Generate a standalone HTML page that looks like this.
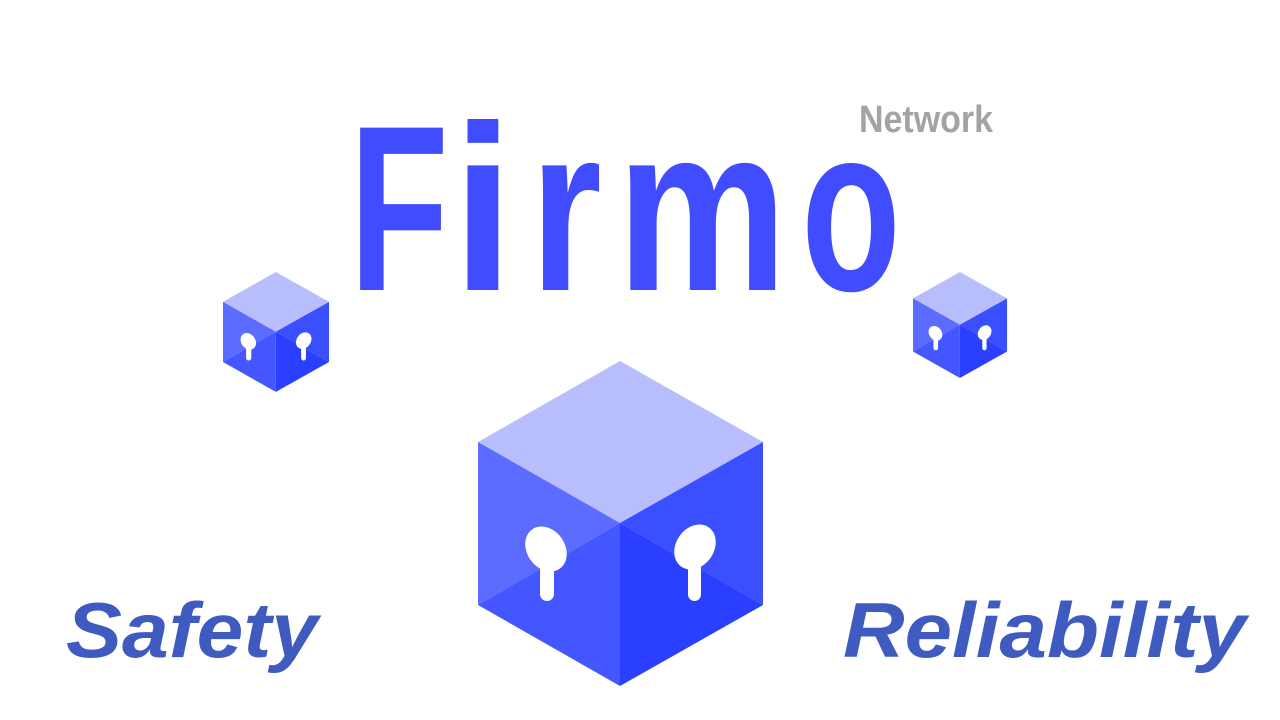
<!DOCTYPE html>
<html><head><meta charset="utf-8"><style>
html,body{margin:0;padding:0;background:#fff;}
svg{display:block}
</style></head><body>
<svg width="1280" height="720" viewBox="0 0 1280 720" xmlns="http://www.w3.org/2000/svg">
<defs>
<g id="cube">
  <polygon points="142,0 285,81 142,162 0,81" fill="#b8befd"/>
  <polygon points="0,81 142,162 0,244" fill="#5b6cff"/>
  <polygon points="0,244 142,162 142,325" fill="#4356ff"/>
  <polygon points="142,162 285,81 285,244" fill="#3a4fff"/>
  <polygon points="142,162 285,244 142,325" fill="#2a3fff"/>
  <g fill="#fff">
    <ellipse cx="68" cy="188" rx="19" ry="24" transform="rotate(-35 68 188)"/>
    <rect x="62" y="195" width="14" height="45" rx="7"/>
    <ellipse cx="217" cy="186" rx="19" ry="24" transform="rotate(35 217 186)"/>
    <rect x="210" y="195" width="13" height="45" rx="6.5"/>
  </g>
</g>
</defs>
<use href="#cube" transform="translate(478,361)"/>
<use href="#cube" transform="translate(223,272) scale(0.372,0.369)"/>
<use href="#cube" transform="translate(913,272) scale(0.33,0.326)"/>
<g font-family="Liberation Sans, sans-serif" font-weight="bold" font-size="236" fill="#424cff" text-anchor="middle">
<text transform="translate(399,290) scale(0.69,1)">F</text>
<text transform="translate(483,290) scale(0.95,1)">i</text>
<text transform="translate(566,290) scale(0.78,1)">r</text>
<text transform="translate(702,290) scale(0.81,1)">m</text>
<text transform="translate(851,290) scale(0.69,1)">o</text>
</g>
<text x="859" y="132" font-family="Liberation Sans, sans-serif" font-weight="bold" font-size="38" fill="#a3a3a3" textLength="134" lengthAdjust="spacingAndGlyphs">Network</text>
<text x="66" y="657" font-family="Liberation Sans, sans-serif" font-weight="bold" font-style="italic" font-size="78" fill="#3f5bbf" textLength="252" lengthAdjust="spacingAndGlyphs">Safety</text>
<text x="843" y="657" font-family="Liberation Sans, sans-serif" font-weight="bold" font-style="italic" font-size="78" fill="#3f5bbf" textLength="403" lengthAdjust="spacingAndGlyphs">Reliability</text>
</svg>
</body></html>
